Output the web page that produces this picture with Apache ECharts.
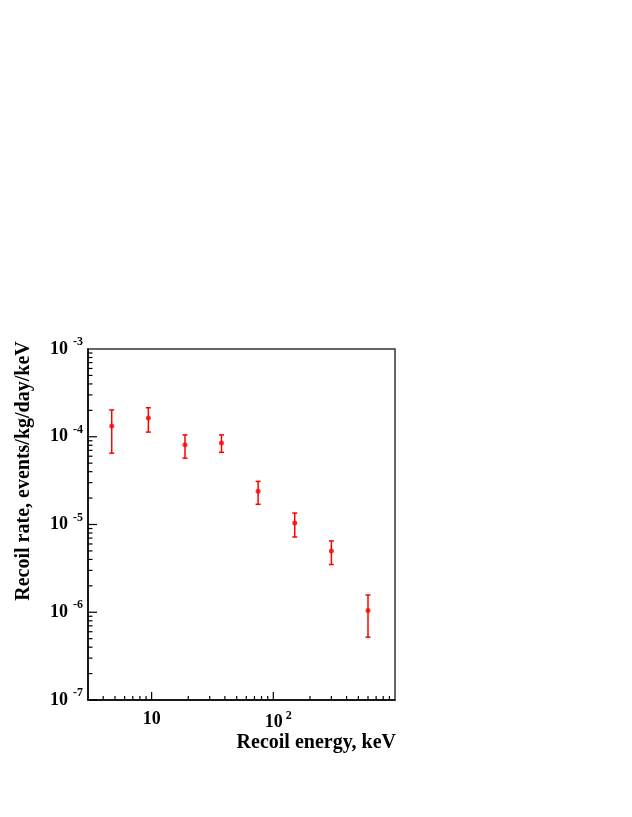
<!DOCTYPE html>
<html>
<head>
<meta charset="utf-8">
<script src="https://cdn.jsdelivr.net/npm/echarts@6/dist/echarts.min.js"></script>
<style>
  html, body { margin: 0; padding: 0; background: #fff; }
  #chart { width: 632px; height: 817px; }
</style>
</head>
<body>
<div id="chart"></div>
<script>
// recoil spectrum, points (keV vs events/kg/day/keV)
const energy = [4.7, 9.4, 18.8, 37.5, 75, 150, 300, 600];
const rate   = [1.33e-4, 1.64e-4, 8.1e-5, 8.5e-5, 2.4e-5, 1.04e-5, 5.0e-6, 1.05e-6];
const rateHi = [2.02e-4, 2.14e-4, 1.05e-4, 1.05e-4, 3.1e-5, 1.35e-5, 6.5e-6, 1.57e-6];
const rateLo = [6.5e-5, 1.13e-4, 5.7e-5, 6.65e-5, 1.7e-5, 7.2e-6, 3.5e-6, 5.2e-7];

const X_MIN = 3, X_MAX = 1000;
const Y_MIN = 1e-7, Y_MAX = 1e-3;

// tick positions in the ROOT style (inside the frame, bottom and left only)
const xMajorTicks = [10, 100];
const xMinorTicks = [4, 5, 6, 7, 8, 9, 20, 30, 40, 50, 60, 70, 80, 90, 200, 300, 400, 500, 600, 700, 800, 900];
const yDecades = [1e-7, 1e-6, 1e-5, 1e-4];
const yMinorMult = [2, 3, 4, 5, 6, 7, 8, 9];

const FONT = '"Liberation Serif", "DejaVu Serif", serif';
const RED = '#ff0000';

const xTicks = [
  ...xMajorTicks.map(v => [v, 8]),
  ...xMinorTicks.map(v => [v, 4]),
];
const yTicks = [];
yDecades.forEach(d => {
  yTicks.push([d, 9]);
  yMinorMult.forEach(m => yTicks.push([d * m, 4.5]));
});

function isDecade(v) {
  const l = Math.log10(v);
  return Math.abs(l - Math.round(l)) < 1e-6;
}

const chart = echarts.init(document.getElementById('chart'), null, { renderer: 'canvas' });

chart.setOption({
  animation: false,
  grid: {
    left: 88, right: 237, top: 349, bottom: 117,
    show: true, borderColor: '#333', borderWidth: 1.5, backgroundColor: 'transparent',
  },
  xAxis: {
    type: 'log', logBase: 10, min: X_MIN, max: X_MAX,
    axisLine: { lineStyle: { color: '#000', width: 1.5 } },
    axisTick: { show: false },
    splitLine: { show: false },
    axisLabel: {
      margin: 10,
      fontFamily: FONT, fontWeight: 'bold', fontSize: 18, color: '#000',
      formatter: v => {
        if (!isDecade(v)) return '';
        const e = Math.round(Math.log10(v));
        if (e === 1) return '{b|10}';
        if (e === 2) return '{c|10}{s|2}';
        return '';
      },
      rich: {
        b: { fontFamily: FONT, fontWeight: 'bold', fontSize: 18, color: '#000' },
        c: { fontFamily: FONT, fontWeight: 'bold', fontSize: 18, color: '#000', padding: [0, 0, 0, 10] },
        s: { fontFamily: FONT, fontWeight: 'bold', fontSize: 12, color: '#000', padding: [0, 0, 12, 3] },
      },
    },
  },
  yAxis: {
    type: 'log', logBase: 10, min: Y_MIN, max: Y_MAX,
    axisLine: { lineStyle: { color: '#000', width: 1.5 } },
    axisTick: { show: false },
    splitLine: { show: false },
    axisLabel: {
      margin: 5,
      fontFamily: FONT, fontWeight: 'bold', fontSize: 18, color: '#000',
      formatter: v => {
        if (!isDecade(v)) return '';
        return '{b|10}{s|' + Math.round(Math.log10(v)) + '}';
      },
      rich: {
        b: { fontFamily: FONT, fontWeight: 'bold', fontSize: 18, color: '#000' },
        s: { fontFamily: FONT, fontWeight: 'bold', fontSize: 12, color: '#000', padding: [0, 0, 14, 5] },
      },
    },
  },
  graphic: [
    {
      type: 'text', x: 396, y: 743,
      style: {
        text: 'Recoil energy, keV', align: 'right', verticalAlign: 'middle',
        font: 'bold 20px ' + FONT, fill: '#000',
      },
    },
    {
      type: 'text', x: 24, y: 471, rotation: Math.PI / 2,
      style: {
        text: 'Recoil rate, events/kg/day/keV', align: 'center', verticalAlign: 'middle',
        font: 'bold 20px ' + FONT, fill: '#000',
      },
    },
  ],
  series: [
    {
      // x ticks, drawn through the axis scale
      type: 'custom', silent: true, z: 3,
      data: xTicks,
      renderItem(params, api) {
        const p = api.coord([api.value(0), Y_MIN]);
        return {
          type: 'line',
          shape: { x1: p[0], y1: p[1], x2: p[0], y2: p[1] - api.value(1) },
          style: { stroke: '#000', lineWidth: 1.2 },
        };
      },
    },
    {
      // y ticks
      type: 'custom', silent: true, z: 3,
      data: yTicks,
      encode: { x: 1, y: 0 },
      renderItem(params, api) {
        const p = api.coord([X_MIN, api.value(0)]);
        return {
          type: 'line',
          shape: { x1: p[0], y1: p[1], x2: p[0] + api.value(1), y2: p[1] },
          style: { stroke: '#000', lineWidth: 1.2 },
        };
      },
    },
    {
      // error bars with small caps
      type: 'custom', silent: true, z: 4,
      data: energy.map((e, i) => [e, rate[i], rateLo[i], rateHi[i]]),
      renderItem(params, api) {
        const x = api.value(0);
        const lo = api.coord([x, api.value(2)]);
        const hi = api.coord([x, api.value(3)]);
        const st = { stroke: RED, lineWidth: 1.5 };
        const cap = 2.5;
        return {
          type: 'group',
          children: [
            { type: 'line', shape: { x1: lo[0], y1: lo[1], x2: hi[0], y2: hi[1] }, style: st },
            { type: 'line', shape: { x1: lo[0] - cap, y1: lo[1], x2: lo[0] + cap, y2: lo[1] }, style: st },
            { type: 'line', shape: { x1: hi[0] - cap, y1: hi[1], x2: hi[0] + cap, y2: hi[1] }, style: st },
          ],
        };
      },
    },
    {
      type: 'scatter', z: 5,
      data: energy.map((e, i) => [e, rate[i]]),
      symbol: 'circle', symbolSize: 5,
      itemStyle: { color: RED },
    },
  ],
});
</script>
</body>
</html>
